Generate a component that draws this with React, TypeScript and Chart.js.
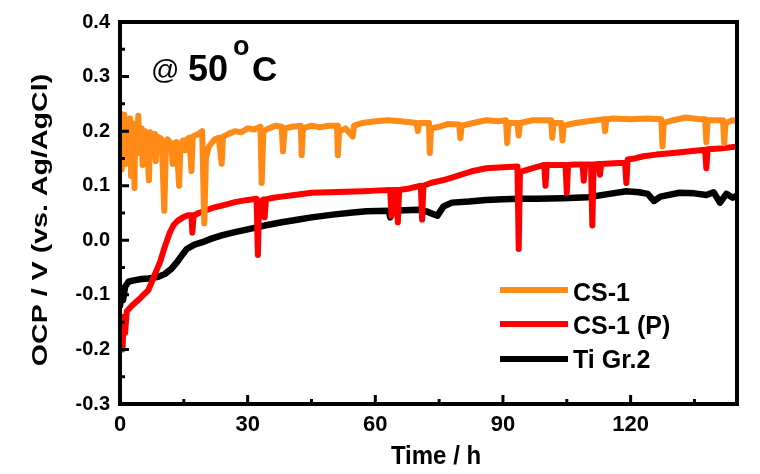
import React, { useEffect, useRef } from "react";
import { Chart, registerables } from "chart.js";

Chart.register(...registerables);

// ---- data ----
const xTickValues = [0, 30, 60, 90, 120];
const xMinorTickValues = [15, 45, 75, 105, 135];
const yTickValues = [-0.3, -0.2, -0.1, 0.0, 0.1, 0.2, 0.3, 0.4];
const yMinorTickValues = [-0.25, -0.15, -0.05, 0.05, 0.15, 0.25, 0.35];
const seriesLabels = ["CS-1", "CS-1 (P)", "Ti Gr.2"];
const seriesColors = ["#FF8A16", "#FF0000", "#000000"];

const cs1Time = [0, 0.2, 0.4, 0.6, 0.8, 1.0, 1.3, 1.6, 2.0, 2.35, 2.6, 2.9, 3.2, 3.4, 3.6, 4.0, 4.3, 4.6, 5.1, 5.3, 5.6, 5.9, 6.3, 6.8, 7.1, 7.6, 8.2, 8.4, 8.7, 9.3, 9.8, 10.4, 10.8, 11.2, 12.1, 12.4, 12.7, 13.3, 13.9, 14.2, 14.8, 15.3, 15.7, 16.3, 16.8, 17.1, 17.6, 18.5, 19.3, 19.8, 20.2, 20.8, 21.5, 22.3, 23.2, 23.9, 24.2, 25.5, 27, 28.5, 30, 31.5, 33, 33.3, 33.7, 35, 36.5, 38, 38.3, 38.7, 40.5, 42.5, 42.7, 43.0, 45, 47, 49, 51, 51.2, 51.5, 53, 54.7, 55, 57, 60, 63, 66, 69.7, 70, 70.3, 72.6, 72.8, 73.1, 75, 77, 79.7, 80, 80.3, 83, 86, 89, 90.7, 91, 91.3, 93.4, 93.7, 94, 97, 100, 101.3, 101.6, 101.9, 103.7, 104, 104.3, 107, 110, 113.7, 114, 114.3, 116, 120, 124, 127.2, 127.5, 127.8, 130, 133, 136, 137.5, 137.8, 138.1, 140, 141.7, 142, 142.3, 144, 145];
const cs1Ocp = [0.17, 0.232, 0.13, 0.225, 0.15, 0.23, 0.14, 0.22, 0.16, 0.223, 0.118, 0.215, 0.2, 0.096, 0.21, 0.17, 0.228, 0.16, 0.205, 0.138, 0.2, 0.2, 0.19, 0.11, 0.198, 0.185, 0.195, 0.145, 0.19, 0.188, 0.185, 0.054, 0.17, 0.185, 0.175, 0.14, 0.178, 0.18, 0.1, 0.175, 0.183, 0.165, 0.185, 0.188, 0.127, 0.19, 0.192, 0.195, 0.2, 0.031, 0.15, 0.17, 0.178, 0.185, 0.188, 0.14, 0.19, 0.195, 0.2, 0.198, 0.205, 0.203, 0.208, 0.105, 0.2, 0.205, 0.21, 0.208, 0.163, 0.205, 0.208, 0.21, 0.156, 0.205, 0.21, 0.207, 0.21, 0.21, 0.156, 0.2, 0.205, 0.19, 0.21, 0.215, 0.218, 0.22, 0.218, 0.215, 0.2, 0.215, 0.215, 0.16, 0.205, 0.208, 0.213, 0.212, 0.187, 0.21, 0.215, 0.22, 0.218, 0.22, 0.178, 0.215, 0.215, 0.192, 0.215, 0.22, 0.22, 0.22, 0.188, 0.215, 0.215, 0.183, 0.21, 0.215, 0.218, 0.222, 0.2, 0.222, 0.223, 0.222, 0.223, 0.222, 0.172, 0.215, 0.22, 0.225, 0.222, 0.222, 0.18, 0.22, 0.22, 0.22, 0.178, 0.215, 0.22, 0.218];

const cs1pTime = [0, 0.2, 0.4, 0.6, 0.9, 1.2, 1.6, 2.2, 2.8, 3.5, 4.5, 5.5, 6.6, 7.4, 8.2, 9.4, 10.6, 11.7, 12.6, 13.6, 14.8, 16.0, 16.8, 17.0, 17.3, 18.5, 20, 22, 24.6, 27, 30, 32.1, 32.4, 32.7, 33.8, 34.0, 34.3, 36, 38, 41, 45, 49, 53, 57, 60, 63.5, 63.8, 64.1, 65.0, 65.3, 65.6, 68, 70.7, 71.0, 71.3, 73, 75.8, 78, 80, 83, 86, 90, 93.4, 93.7, 94.0, 96, 99.7, 100, 100.3, 103, 104.7, 105, 105.3, 107, 108.7, 109, 109.3, 110.7, 111, 111.3, 112.5, 112.8, 113.1, 116, 118.7, 119, 119.3, 121, 123, 126, 130, 134, 137.5, 137.8, 138.1, 141, 145];
const cs1pOcp = [-0.15, -0.19, -0.16, -0.2, -0.14, -0.17, -0.13, -0.125, -0.12, -0.115, -0.108, -0.1, -0.092, -0.078, -0.062, -0.04, -0.01, 0.014, 0.028, 0.036, 0.042, 0.046, 0.046, 0.014, 0.045, 0.05, 0.054, 0.06, 0.065, 0.07, 0.074, 0.076, -0.027, 0.07, 0.075, 0.042, 0.075, 0.078, 0.08, 0.083, 0.087, 0.088, 0.089, 0.09, 0.091, 0.092, 0.045, 0.092, 0.092, 0.033, 0.092, 0.095, 0.1, 0.038, 0.1, 0.105, 0.11, 0.115, 0.12, 0.127, 0.132, 0.134, 0.135, -0.016, 0.125, 0.13, 0.138, 0.1, 0.138, 0.138, 0.138, 0.087, 0.138, 0.139, 0.139, 0.109, 0.139, 0.139, 0.027, 0.139, 0.14, 0.12, 0.14, 0.141, 0.142, 0.105, 0.148, 0.15, 0.154, 0.157, 0.16, 0.163, 0.166, 0.132, 0.167, 0.168, 0.172];

const tiTime = [0, 0.3, 0.7, 1.2, 2.0, 3.0, 5.0, 6.7, 9.0, 10.5, 12.1, 13.4, 14.5, 15.7, 17.5, 19.2, 21.5, 23.9, 27, 30, 34, 38, 42, 45, 50, 54.7, 58, 63.2, 63.5, 63.8, 67, 70, 72, 74.6, 76, 78, 82, 86, 90, 94, 98, 104, 110, 115, 119, 122, 124, 125.5, 127, 131.5, 135, 137.8, 139.5, 141, 142.5, 144, 145];
const tiOcp = [-0.12, -0.095, -0.11, -0.085, -0.076, -0.074, -0.071, -0.07, -0.067, -0.062, -0.052, -0.04, -0.028, -0.016, -0.008, -0.004, 0.003, 0.009, 0.015, 0.02, 0.027, 0.033, 0.038, 0.042, 0.047, 0.051, 0.053, 0.054, 0.042, 0.054, 0.055, 0.056, 0.053, 0.045, 0.062, 0.069, 0.071, 0.074, 0.075, 0.076, 0.076, 0.077, 0.079, 0.085, 0.09, 0.088, 0.085, 0.072, 0.08, 0.087, 0.086, 0.083, 0.088, 0.069, 0.085, 0.078, 0.082];

const FONT = "Arial, 'Liberation Sans', Helvetica, sans-serif";

const toPoints = (t: number[], v: number[]) => t.map((x, i) => ({ x, y: v[i] }));

const decorPlugin = {
  id: "decor",
  afterDatasetsDraw(chart: any) {
    const { ctx, chartArea: a, scales } = chart;
    const xs = scales.x;
    const ys = scales.y;
    ctx.save();
    ctx.strokeStyle = "#000";
    ctx.lineCap = "butt";
    // inward tick marks
    ctx.lineWidth = 3;
    ctx.beginPath();
    xTickValues.forEach((v) => {
      const px = xs.getPixelForValue(v);
      ctx.moveTo(px, a.bottom);
      ctx.lineTo(px, a.bottom - 9);
    });
    xMinorTickValues.forEach((v) => {
      const px = xs.getPixelForValue(v);
      ctx.moveTo(px, a.bottom);
      ctx.lineTo(px, a.bottom - 5);
    });
    yTickValues.forEach((v) => {
      const py = ys.getPixelForValue(v);
      ctx.moveTo(a.left, py);
      ctx.lineTo(a.left + 9, py);
    });
    yMinorTickValues.forEach((v) => {
      const py = ys.getPixelForValue(v);
      ctx.moveTo(a.left, py);
      ctx.lineTo(a.left + 5, py);
    });
    ctx.stroke();
    // frame
    ctx.lineWidth = 4;
    ctx.strokeRect(a.left, a.top, a.right - a.left, a.bottom - a.top);

    // legend
    const legendY = [290, 324, 359];
    const textY = [301, 334, 368];
    seriesLabels.forEach((lab, i) => {
      ctx.strokeStyle = seriesColors[i];
      ctx.lineWidth = 6;
      ctx.beginPath();
      ctx.moveTo(500, legendY[i]);
      ctx.lineTo(568, legendY[i]);
      ctx.stroke();
      ctx.fillStyle = "#000";
      ctx.font = `bold 25px ${FONT}`;
      ctx.textAlign = "left";
      ctx.textBaseline = "alphabetic";
      ctx.fillText(lab, 573, textY[i]);
    });

    // annotation "@ 50°C"
    ctx.fillStyle = "#000";
    ctx.textBaseline = "alphabetic";
    ctx.textAlign = "left";
    ctx.font = `28px ${FONT}`;
    ctx.fillText("@", 151, 79);
    ctx.font = `bold 36px ${FONT}`;
    ctx.fillText("50", 188, 81);
    ctx.font = `bold 27px ${FONT}`;
    ctx.fillText("o", 233, 55);
    ctx.font = `bold 35px ${FONT}`;
    ctx.fillText("C", 252, 81);

    // axis titles
    ctx.font = `bold 24px ${FONT}`;
    ctx.textAlign = "center";
    ctx.save();
    ctx.translate(436, 464);
    ctx.scale(1, 1.1);
    ctx.fillText("Time / h", 0, 0);
    ctx.restore();

    ctx.save();
    ctx.translate(47, 220);
    ctx.rotate(-Math.PI / 2);
    ctx.scale(1.3, 1);
    ctx.font = `bold 22px ${FONT}`;
    ctx.textAlign = "center";
    ctx.fillText("OCP / V (vs. Ag/AgCl)", 0, 0);
    ctx.restore();

    ctx.restore();
  },
};

export default function App() {
  const canvasRef = useRef<HTMLCanvasElement | null>(null);

  useEffect(() => {
    document.body.style.margin = "0";
    const canvas = canvasRef.current;
    if (!canvas) return;
    const chart = new Chart(canvas, {
      type: "line",
      data: {
        datasets: [
          {
            label: seriesLabels[0],
            data: toPoints(cs1Time, cs1Ocp),
            borderColor: seriesColors[0],
            borderWidth: 6,
          },
          {
            label: seriesLabels[1],
            data: toPoints(cs1pTime, cs1pOcp),
            borderColor: seriesColors[1],
            borderWidth: 6,
          },
          {
            label: seriesLabels[2],
            data: toPoints(tiTime, tiOcp),
            borderColor: seriesColors[2],
            borderWidth: 6.5,
          },
        ].map((d) => ({
          ...d,
          pointRadius: 0,
          pointHoverRadius: 0,
          tension: 0,
          fill: false,
          borderJoinStyle: "round" as const,
          borderCapStyle: "round" as const,
        })),
      },
      options: {
        animation: false,
        responsive: false,
        devicePixelRatio: 1,
        events: [],
        layout: { padding: { top: 18, right: 23, left: 0, bottom: 0 } },
        plugins: {
          legend: { display: false },
          tooltip: { enabled: false },
          title: { display: false },
        },
        scales: {
          x: {
            type: "linear",
            min: 0,
            max: 145,
            grid: { display: false, drawTicks: false },
            border: { display: false },
            afterBuildTicks: (s: any) => {
              s.ticks = xTickValues.map((v) => ({ value: v }));
            },
            afterFit: (s: any) => {
              s.height = 70;
            },
            ticks: {
              autoSkip: false,
              maxRotation: 0,
              padding: 8,
              color: "#000",
              font: { family: FONT, size: 22, weight: "bold" },
              callback: (v: any) => String(v),
            },
          },
          y: {
            type: "linear",
            min: -0.3,
            max: 0.4,
            grid: { display: false, drawTicks: false },
            border: { display: false },
            afterBuildTicks: (s: any) => {
              s.ticks = yTickValues.map((v) => ({ value: v }));
            },
            afterFit: (s: any) => {
              s.width = 120;
            },
            ticks: {
              autoSkip: false,
              padding: 10,
              color: "#000",
              font: { family: FONT, size: 20, weight: "bold" },
              callback: (v: any) => Number(v).toFixed(1),
            },
          },
        },
      },
      plugins: [decorPlugin],
    } as any);
    return () => chart.destroy();
  }, []);

  return (
    <div style={{ width: 760, height: 474, background: "#fff" }}>
      <canvas ref={canvasRef} width={760} height={474} style={{ display: "block" }} />
    </div>
  );
}
